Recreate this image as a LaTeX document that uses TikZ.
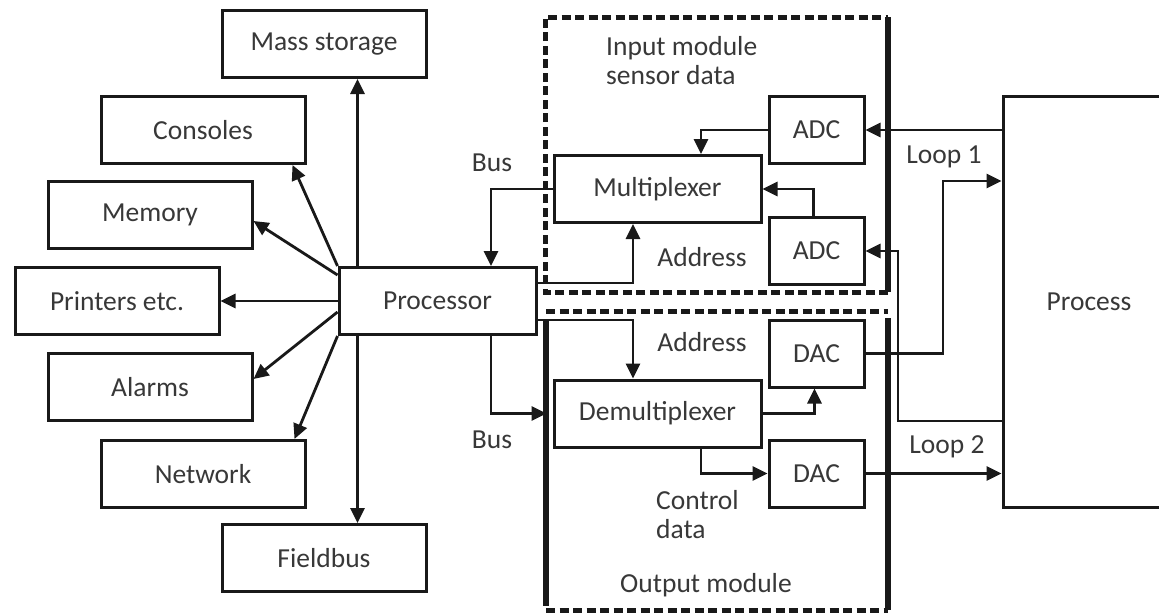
\documentclass[tikz,border=0pt]{standalone}
\usepackage{fontspec}
\setmainfont{Carlito}
\usetikzlibrary{arrows.meta,calc}
\begin{document}
\begin{tikzpicture}[x=1pt,y=-1pt,
  box/.style={draw=black!90, line width=3pt, minimum width=204pt, minimum height=67pt,
    inner sep=0pt, text=black!78, font=\fontsize{27.5}{29}\selectfont},
  lbl/.style={inner sep=0pt, text=black!78, font=\fontsize{27.5}{29}\selectfont},
  arr/.style={draw=black!90, line width=2.8pt, -{Triangle[length=15pt,width=14pt]}},
  moddash/.style={draw=black!90, line width=5pt, dash pattern=on 9pt off 4.5pt},
  modsolid/.style={draw=black!90, line width=6pt}]
\useasboundingbox (0,0) rectangle (1159,613);
\clip (0,0) rectangle (1159,613);
\fill[white] (0,0) rectangle (1159,613);

% module frames
\draw[moddash] (888,292) -- (545,292) -- (545,17) -- (888,17);
\draw[modsolid] (888,17) -- (888,292);
\draw[moddash] (546,311) -- (888,311);
\draw[moddash] (546,610) -- (888,610);
\draw[modsolid] (546,320) -- (546,606);
\draw[modsolid] (888,318) -- (888,610);

% left boxes
\node[box] (ms) at (324,44) {Mass storage};
\node[box] (cons) at (203,130) {Consoles};
\node[box] (mem) at (150,215) {Memory};
\node[box] (prn) at (117,301) {Printers etc.};
\node[box, minimum width=197pt] (proc) at (437.5,301) {Processor};
\node[box] (alm) at (150,387) {Alarms};
\node[box] (net) at (203,474) {Network};
\node[box] (fb) at (324,558) {Fieldbus};

% right boxes
\node[box, minimum width=207pt] (mux) at (657.5,189) {Multiplexer};
\node[box, minimum width=95pt] (adc1) at (816.5,130) {ADC};
\node[box, minimum width=95pt] (adc2) at (816.5,251) {ADC};
\node[box, minimum width=207pt] (demux) at (657.5,413.5) {Demultiplexer};
\node[box, minimum width=95pt] (dac1) at (816.5,353.5) {DAC};
\node[box, minimum width=95pt] (dac2) at (816.5,473.5) {DAC};
\node[box, minimum width=172pt, minimum height=411pt] (process) at (1089,301.5) {Process};

% labels
\node[lbl] (bus1) at (492,163) {Bus};
\node[lbl] (bus2) at (492,440) {Bus};
\node[lbl, anchor=west, align=left] (inlbl) at (606,61) {Input module\\sensor data};
\node[lbl] (addr1) at (702,257) {Address};
\node[lbl] (addr2) at (702,342) {Address};
\node[lbl, anchor=west, align=left] (ctl) at (656,515) {Control\\data};
\node[lbl] (outlbl) at (706,585) {Output module};
\node[lbl] (loop1) at (944,157) {Loop 1};
\node[lbl] (loop2) at (947,447) {Loop 2};

% helper coordinates
\coordinate (pu) at ($(proc.north west)+(20,0)$);
\coordinate (pd) at ($(proc.south west)+(20,0)$);
\coordinate (busx) at (491,0);
\coordinate (addrx) at (633,0);
\coordinate (ya1) at (0,283);
\coordinate (ya2) at (0,320);
\coordinate (adx) at (701,0);
\coordinate (lx1) at (943,0);
\coordinate (ly1) at (0,181);
\coordinate (lx2) at (898,0);
\coordinate (ly2) at (0,421);

% processor fan-out
\draw[arr] (pu) -- (pu |- ms.south);
\draw[arr] (pd) -- (pd |- fb.north);
\draw[arr] (proc.north west) -- ($(cons.south east)+(-14,0)$);
\draw[arr] ($(proc.north west)+(0,9)$) -- ($(mem.east)+(0,6)$);
\draw[arr] (proc.west) -- (prn.east);
\draw[arr] ($(proc.west)+(0,11)$) -- ($(alm.east)+(0,-8)$);
\draw[arr] (proc.south west) -- ($(net.north east)+(-12,0)$);

% bus
\draw[arr] (mux.west) -| (busx |- proc.north);
\draw[arr] (busx |- proc.south) |- ($(demux.west)+(-6,0)$);

% address
\draw[arr] (proc.east |- ya1) -| (addrx |- mux.south);
\draw[arr] (proc.east |- ya2) -| (addrx |- demux.north);

% input module
\draw[arr] (adc1.west) -| (adx |- mux.north);
\draw[arr] ($(adc2.north)+(-3,0)$) |- (mux.east);

% output module
\draw[arr] (demux.east) -| ($(dac1.south)+(-2,0)$);
\draw[arr] (adx |- demux.south) |- (dac2.west);

% loops
\draw[arr] (process.west |- adc1.east) -- (adc1.east);
\draw[arr] (process.west |- ly2) -| (lx2 |- adc2.east) -- (adc2.east);
\draw[arr] (dac1.east) -| (lx1 |- ly1) -- (process.west |- ly1);
\draw[arr] (dac2.east) -- (process.west |- dac2.east);
\end{tikzpicture}
\end{document}
